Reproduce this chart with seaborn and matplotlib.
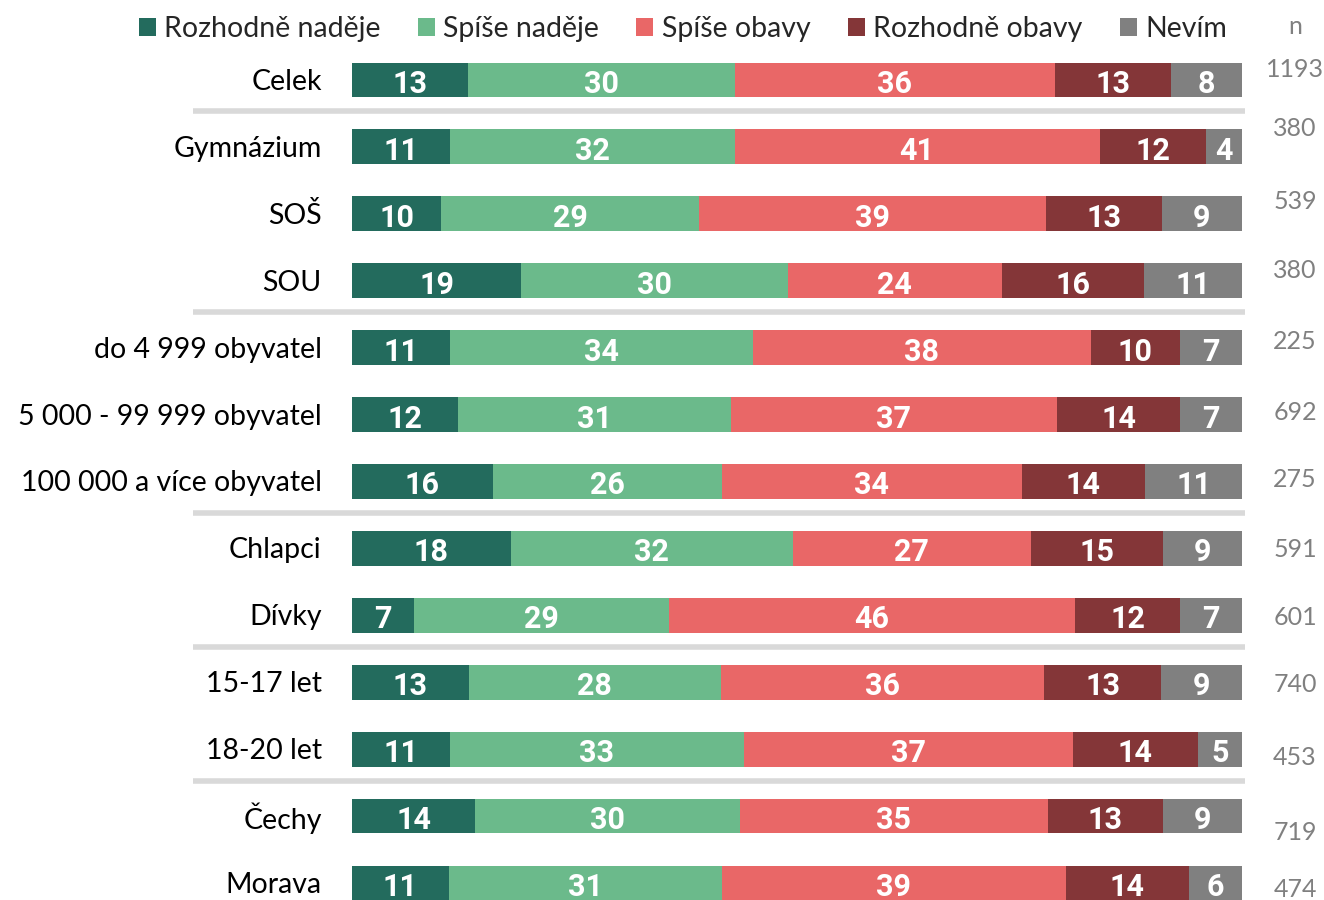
import numpy as np
import pandas as pd
import seaborn as sns
import matplotlib.pyplot as plt
from matplotlib.patches import Patch

# row labels, top to bottom
groups = ["Celek", "Gymnázium", "SOŠ", "SOU", "do 4 999 obyvatel",
          "5 000 - 99 999 obyvatel", "100 000 a více obyvatel", "Chlapci",
          "Dívky", "15-17 let", "18-20 let", "Čechy", "Morava"]

rozhodne_nadeje = [13, 11, 10, 19, 11, 12, 16, 18, 7, 13, 11, 14, 11]
spise_nadeje = [30, 32, 29, 30, 34, 31, 26, 32, 29, 28, 33, 30, 31]
spise_obavy = [36, 41, 39, 24, 38, 37, 34, 27, 46, 36, 37, 35, 39]
rozhodne_obavy = [13, 12, 13, 16, 10, 14, 14, 15, 12, 13, 14, 13, 14]
nevim = [8, 4, 9, 11, 7, 7, 11, 9, 7, 9, 5, 9, 6]

n_counts = [1193, 380, 539, 380, 225, 692, 275, 591, 601, 740, 453, 719, 474]

series_names = ["Rozhodně naděje", "Spíše naděje", "Spíše obavy",
                "Rozhodně obavy", "Nevím"]
colors = ["#236B5D", "#6BBA8B", "#E96767", "#843638", "#808080"]

# where the thin grey separators go (after these rows)
separators_after = [0, 3, 6, 8, 10]
# the n labels are not quite level with their bars in the original
n_shift = [-0.18, -0.3, -0.21, -0.18, -0.12, -0.06, -0.06, -0.01, 0, 0.01,
           0.1, 0.21, 0.07]

df = pd.DataFrame({"group": groups,
                   series_names[0]: rozhodne_nadeje,
                   series_names[1]: spise_nadeje,
                   series_names[2]: spise_obavy,
                   series_names[3]: rozhodne_obavy,
                   series_names[4]: nevim})

# rounded values don't always add to 100, scale each row to full width
vals = df[series_names].to_numpy(dtype=float)
shares = vals / vals.sum(axis=1, keepdims=True) * 100
cum = np.cumsum(shares, axis=1)

sns.set_style("white")
plt.rcParams['font.family'] = ['Lato', 'DejaVu Sans']

fig = plt.figure(figsize=(13.24, 9), dpi=100)
ax = fig.add_axes([352 / 1324, 0, 890 / 1324, 853.5 / 900])

# stacked bars: draw cumulative totals from the widest down
for k in range(len(series_names) - 1, -1, -1):
    sns.barplot(x=cum[:, k], y=groups, color=colors[k], orient="h",
                width=0.52, saturation=1, ax=ax, linewidth=0)

# values inside segments
for i in range(len(groups)):
    left = 0
    for k in range(len(series_names)):
        mid = left + shares[i, k] / 2
        ax.text(mid, i + 0.06, str(int(vals[i, k])), ha="center",
                va="center", color="white", fontsize=22, fontweight="bold",
                family=["Roboto", "DejaVu Sans"])
        left = cum[i, k]

ax.set_xlim(0, 100)
ax.set_ylim(12.254, -0.5)
ax.set_xlabel("")
ax.set_ylabel("")
ax.set_xticks([])
ax.set_yticks([])
sns.despine(ax=ax, left=True, bottom=True)

# row labels on the left
trans = ax.get_yaxis_transform()
for i, g in enumerate(groups):
    ax.text(-0.034, i + 0.03, g, transform=trans, ha="right", va="center",
            fontsize=20.5, color="black")

# n column
for i, n in enumerate(n_counts):
    ax.text(1.0596, i + n_shift[i] + 0.03, str(n), transform=trans,
            ha="center", va="center", fontsize=18, color="#808080")
fig.text(1295 / 1324, 1 - 26 / 900, "n", ha="center", va="center",
         fontsize=18, color="#808080")

# grey separators between groups
for r in separators_after:
    ax.plot([-0.1787, 1.0034], [r + 0.47, r + 0.47], transform=trans,
            color="#D9D9D9", lw=4, clip_on=False, solid_capstyle="butt")

handles = [Patch(facecolor=c, edgecolor="none") for c in colors]
fig.legend(handles, series_names, loc="center", ncol=5,
           bbox_to_anchor=(683 / 1324, 1 - 29 / 900), frameon=False,
           fontsize=20.5, handlelength=0.6, handleheight=0.6,
           handletextpad=0.3, columnspacing=1.3)

fig.savefig("out.png", dpi=100)
